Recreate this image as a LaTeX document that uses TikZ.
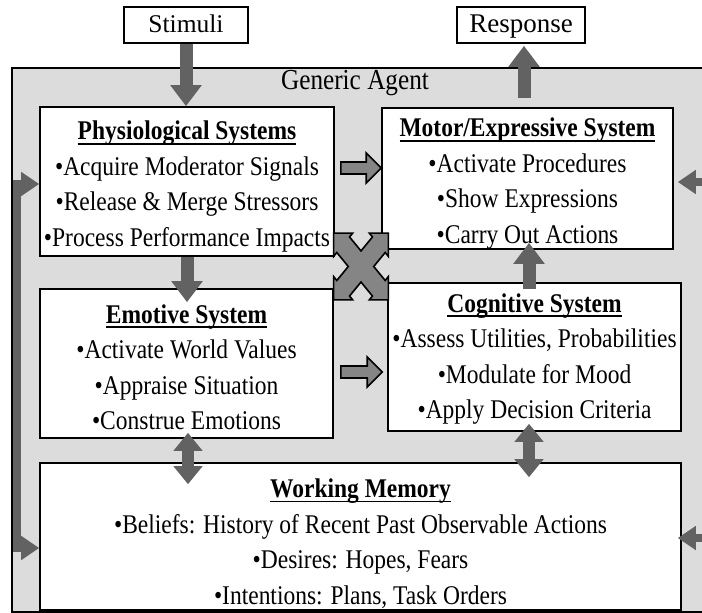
\documentclass[tikz,border=0pt]{standalone}
\usepackage{fontspec}
\setmainfont{Liberation Serif}
\newfontfamily\sysfont{Liberation Serif}[FakeStretch=0.87]
\usetikzlibrary{arrows.meta,calc}

\definecolor{agentgray}{HTML}{DCDCDC}
\definecolor{flowgray}{HTML}{626262}
\definecolor{hollowgray}{HTML}{858585}

% bold heading with an underline set just below the baseline
\newsavebox\titlebox
\newcommand\systitle[1]{\sbox\titlebox{\bfseries #1}\rlap{\usebox\titlebox}\rule[-4.8pt]{\wd\titlebox}{1.8pt}}

% block arrow with black outline, pointing right, tail x from #1, tip at #2
\newcommand\hollowarrow[2]{%
  \draw[hollow] let \p1=#1, \p2=#2 in
    (\x1,{\y2+6pt}) -- ({\x2-15pt},{\y2+6pt}) -- ({\x2-15pt},{\y2+15pt}) -- (\x2,\y2)
    -- ({\x2-15pt},{\y2-15pt}) -- ({\x2-15pt},{\y2-6pt}) -- (\x1,{\y2-6pt}) -- cycle;}

\begin{document}
\begin{tikzpicture}[x=1pt,y=-1pt,
  agentbox/.style={draw=black, line width=1.6pt, fill=agentgray, inner sep=0pt},
  sysbox/.style={draw=black, line width=1.6pt, fill=white, inner sep=0pt},
  systext/.style={inner sep=0pt, align=center, font=\sysfont\fontsize{27}{35.5}\selectfont},
  labelbox/.style={draw=black, line width=1.6pt, fill=white, inner sep=0pt,
    text height=20pt, text depth=5pt, font=\fontsize{25.5}{30}\selectfont},
  flow/.style={draw=flowgray, line width=13pt, -{Triangle[length=21pt,width=30pt]}},
  dflow/.style={draw=flowgray, line width=12pt,
    {Triangle[length=18pt,width=28pt]}-{Triangle[length=18pt,width=28pt]}},
  feed/.style={draw=flowgray, line width=8pt,
    {Triangle[length=18pt,width=23pt]}-{Triangle[length=18pt,width=23pt]}},
  hollow/.style={draw=black, line width=1.6pt, fill=hollowgray, line join=miter}]

\useasboundingbox (0,0) rectangle (702,613);

% container
\node[agentbox, minimum width=703pt, minimum height=544pt] (agent) at (363.5,340) {};
\node[inner sep=0pt, font=\sysfont\fontsize{29}{30}\selectfont] (agentlbl) at (355,83) {Generic Agent};

% input / output labels
\node[labelbox, minimum width=124pt, minimum height=36pt] (stim) at (186,25) {Stimuli};
\node[labelbox, minimum width=128pt, minimum height=36pt] (resp) at (521,25) {\fontsize{27}{30}\selectfont Response};

% subsystem boxes
\node[sysbox, minimum width=294pt, minimum height=149pt] (phys) at (187,181.5) {};
\node[sysbox, minimum width=291pt, minimum height=141pt] (motor) at (527.5,178.5) {};
\node[sysbox, minimum width=293pt, minimum height=149pt] (emo) at (186.5,363.5) {};
\node[sysbox, minimum width=293pt, minimum height=148pt] (cog) at (534.5,357) {};
\node[sysbox, minimum width=641pt, minimum height=147pt] (wm) at (360.5,536.5) {};

\node[systext] (physT) at ($(phys.center)+(0,5)$) {\systitle{Physiological Systems}\\
  •Acquire Moderator Signals\\ •Release \& Merge Stressors\\ •Process Performance Impacts};
\node[systext] (motorT) at ($(motor.center)+(0,5)$) {\systitle{Motor/Expressive System}\\
  •Activate Procedures\\ •Show Expressions\\ •Carry Out Actions};
\node[systext] (emoT) at ($(emo.center)+(0,4)$) {\systitle{Emotive System}\\
  •Activate World Values\\ •Appraise Situation\\ •Construe Emotions};
\node[systext] (cogT) at ($(cog.center)+(0,2)$) {\systitle{Cognitive System}\\
  •Assess Utilities, Probabilities\\ •Modulate for Mood\\ •Apply Decision Criteria};
\node[systext] (wmT) at ($(wm.center)+(0,7)$) {\systitle{Working Memory}\\
  •Beliefs: History of Recent Past Observable Actions\\ •Desires: Hopes, Fears\\
  •Intentions: Plans, Task Orders};

% solid flows
\draw[flow] (stim.south) -- (stim.south |- phys.north);
\draw[flow] ($(resp.south |- motor.north)+(3,-9)$) -- ($(resp.south)+(3,2)$);
\draw[flow] (phys.south) -- ($(phys.south |- emo.north)+(0,14)$);
\draw[flow] ($(cog.north)+(-5.5,7)$) -- ($(cog.north |- motor.south)+(-5.5,-7)$);
\draw[dflow] ($(emo.south)+(1.5,-6)$) -- ($(emo.south |- wm.north)+(1.5,22)$);
\draw[dflow] ($(cog.south)+(-5.5,-8)$) -- ($(cog.south |- wm.north)+(-5.5,15)$);

% outlined flows
\coordinate (pmy) at (0,168);
\coordinate (ecy) at (0,372);
\hollowarrow{($(phys.east)+(6,0)$)}{(motor.west |- pmy)}
\hollowarrow{($(emo.east)+(7,0)$)}{($(cog.west |- ecy)+(-5,0)$)}

% feedback loops along both sides
\coordinate (fbL) at (17,366);
\coordinate (fbR) at (718,366);
\draw[feed] ($(phys.west)+(0,2.5)$) -| (fbL) |- ($(wm.west)+(0,11.5)$);
\draw[feed] ($(motor.east)+(4,3.5)$) -| (fbR) |- ($(wm.east)+(-4,1.5)$);

% four-way exchange between the systems
\coordinate (xc) at ($(phys.south east)!0.5!(cog.north west)+(0,-3)$);
\begin{scope}[shift={(xc)}, xscale=0.9, yscale=1.1, rotate=45]
  \draw[hollow] (10,-10) -- (28,-10) -- (28,-15) -- (43,0) -- (28,15) -- (28,10)
    -- (10,10) -- (10,28) -- (15,28) -- (0,43) -- (-15,28) -- (-10,28)
    -- (-10,10) -- (-28,10) -- (-28,15) -- (-43,0) -- (-28,-15) -- (-28,-10)
    -- (-10,-10) -- (-10,-28) -- (-15,-28) -- (0,-43) -- (15,-28) -- (10,-28) -- cycle;
\end{scope}
\end{tikzpicture}
\end{document}
